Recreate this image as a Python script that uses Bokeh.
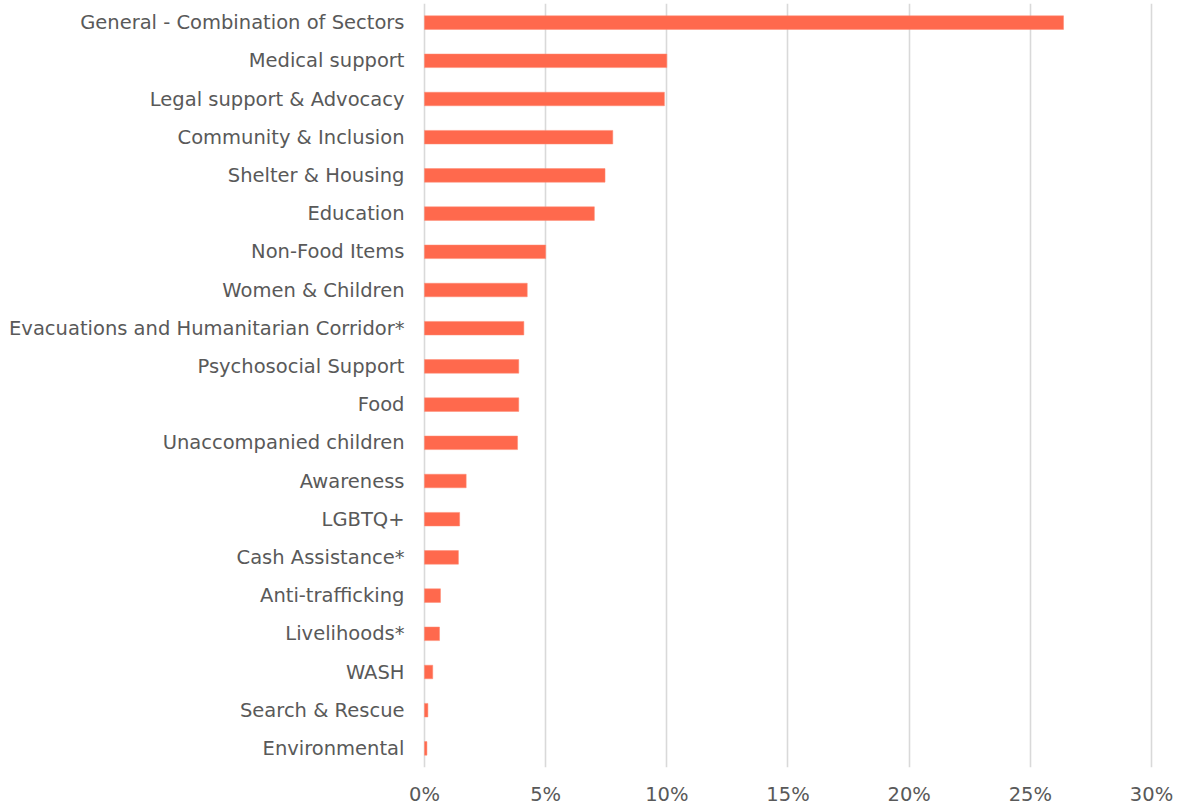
from bokeh.plotting import figure
from bokeh.models import FactorRange, Range1d, FixedTicker, PrintfTickFormatter, ColumnDataSource
from bokeh.embed import file_html
from bokeh.resources import INLINE

categories = [
    "General - Combination of Sectors",
    "Medical support",
    "Legal support & Advocacy",
    "Community & Inclusion",
    "Shelter & Housing",
    "Education",
    "Non-Food Items",
    "Women & Children",
    "Evacuations and Humanitarian Corridor*",
    "Psychosocial Support",
    "Food",
    "Unaccompanied children",
    "Awareness",
    "LGBTQ+",
    "Cash Assistance*",
    "Anti-trafficking",
    "Livelihoods*",
    "WASH",
    "Search & Rescue",
    "Environmental",
]
shares = [26.37, 10.0, 9.9, 7.77, 7.45, 7.01, 5.0, 4.24, 4.10, 3.89, 3.89, 3.84,
          1.72, 1.45, 1.40, 0.66, 0.62, 0.34, 0.14, 0.10]
tick_values = [0, 5, 10, 15, 20, 25, 30]

FONT = "DejaVu Sans"
TXT = "#595959"

src = ColumnDataSource(dict(cat=categories, val=shares))

p = figure(
    width=1174, height=810,
    y_range=FactorRange(*reversed(categories), range_padding=0),
    x_range=Range1d(-0.0825, 30.124),
    output_backend="svg", toolbar_location=None,
    min_border_left=422, min_border_right=20, min_border_top=3, min_border_bottom=43,
)
p.hbar(y="cat", right="val", left=0, height=0.355, source=src,
       color="#FF694D", line_color="#FF8A73", line_width=0.5)

p.outline_line_color = None
p.background_fill_color = "white"
p.border_fill_color = "white"

p.ygrid.grid_line_color = None
p.xgrid.grid_line_color = "#D9D9D9"
p.xgrid.grid_line_width = 1.6
p.xaxis.ticker = FixedTicker(ticks=tick_values)
p.xaxis.formatter = PrintfTickFormatter(format="%d%%")

for ax in (p.xaxis, p.yaxis):
    ax.axis_line_color = None
    ax.major_tick_line_color = None
    ax.minor_tick_line_color = None
    ax.major_label_text_font = FONT
    ax.major_label_text_color = TXT
    ax.major_label_text_font_size = "19.5px"

p.yaxis.major_label_standoff = 12
p.xaxis.major_label_standoff = 9

open("out.html", "w").write(file_html(p, INLINE))
